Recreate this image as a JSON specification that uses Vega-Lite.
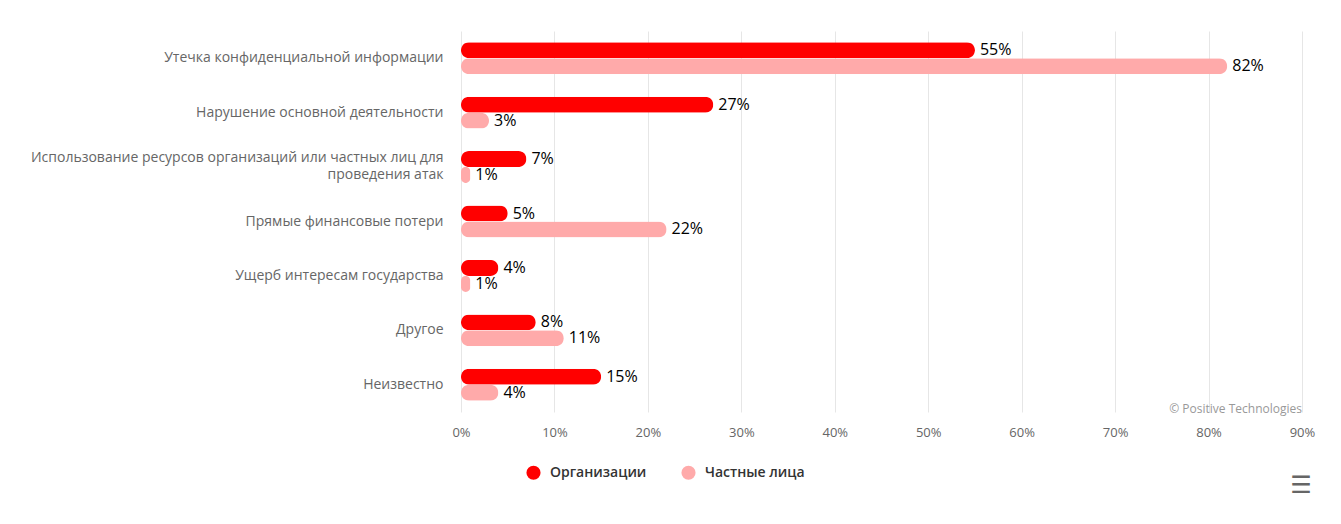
{
  "$schema": "https://vega.github.io/schema/vega-lite/v6.json",
  "width": 841,
  "height": 381,
  "padding": {"left": 11, "top": 31, "right": 39, "bottom": 20},
  "background": "white",
  "config": {
    "font": "Open Sans",
    "view": {"stroke": null}
  },
  "title": {
    "text": "☰",
    "orient": "bottom",
    "anchor": "end",
    "font": "DejaVu Sans",
    "fontSize": 24,
    "color": "#666666",
    "fontWeight": "bold",
    "offset": -6,
    "dx": -3
  },
  "data": {
    "values": [
      {"cat": "Утечка конфиденциальной информации", "series": "Организации", "value": 0.55},
      {"cat": "Утечка конфиденциальной информации", "series": "Частные лица", "value": 0.82},
      {"cat": "Нарушение основной деятельности", "series": "Организации", "value": 0.27},
      {"cat": "Нарушение основной деятельности", "series": "Частные лица", "value": 0.03},
      {"cat": "Использование ресурсов организаций или частных лиц для проведения атак", "series": "Организации", "value": 0.07},
      {"cat": "Использование ресурсов организаций или частных лиц для проведения атак", "series": "Частные лица", "value": 0.01},
      {"cat": "Прямые финансовые потери", "series": "Организации", "value": 0.05},
      {"cat": "Прямые финансовые потери", "series": "Частные лица", "value": 0.22},
      {"cat": "Ущерб интересам государства", "series": "Организации", "value": 0.04},
      {"cat": "Ущерб интересам государства", "series": "Частные лица", "value": 0.01},
      {"cat": "Другое", "series": "Организации", "value": 0.08},
      {"cat": "Другое", "series": "Частные лица", "value": 0.11},
      {"cat": "Неизвестно", "series": "Организации", "value": 0.15},
      {"cat": "Неизвестно", "series": "Частные лица", "value": 0.04}
    ]
  },
  "encoding": {
    "y": {
      "field": "cat",
      "type": "nominal",
      "sort": null,
      "title": null,
      "scale": {"paddingInner": 0.413, "paddingOuter": 0.2065},
      "axis": {
        "ticks": false,
        "domain": false,
        "labelPadding": 18,
        "minExtent": 450,
        "maxExtent": 450,
        "labelFontSize": 14,
        "labelColor": "#666666",
        "labelLimit": 600,
        "labelLineHeight": 17,
        "labelOffset": {"condition": {"test": "length(datum.label) > 60", "value": -9}, "value": 0},
        "labelExpr": "datum.label == 'Использование ресурсов организаций или частных лиц для проведения атак' ? ['Использование ресурсов организаций или частных лиц для', 'проведения атак'] : datum.label"
      }
    },
    "yOffset": {
      "field": "series",
      "type": "nominal",
      "scale": {"paddingInner": 0, "paddingOuter": 0}
    },
    "x": {
      "field": "value",
      "type": "quantitative",
      "title": null,
      "scale": {"domain": [0, 0.9], "nice": false},
      "axis": {
        "format": ".0%",
        "values": [0, 0.1, 0.2, 0.3, 0.4, 0.5, 0.6, 0.7, 0.8, 0.9],
        "labelOverlap": false,
        "domain": false,
        "ticks": false,
        "gridColor": "#e6e6e6",
        "labelFontSize": 13,
        "labelColor": "#666666",
        "labelPadding": 14,
        "labelFlush": false
      }
    }
  },
  "layer": [
    {
      "mark": {"type": "bar", "cornerRadius": 8},
      "encoding": {
        "color": {
          "field": "series",
          "type": "nominal",
          "scale": {"domain": ["Организации", "Частные лица"], "range": ["#ff0000", "#ffaaaa"]},
          "legend": {
            "title": null,
            "orient": "none",
            "direction": "horizontal",
            "legendX": 65,
            "legendY": 434,
            "symbolType": "circle",
            "symbolSize": 200,
            "symbolStrokeWidth": 0,
            "labelFontSize": 14,
            "labelColor": "#333333",
            "labelFontWeight": 600,
            "columnPadding": 34,
            "labelOffset": 9
          }
        }
      }
    },
    {
      "mark": {"type": "text", "align": "left", "baseline": "middle", "dx": 5, "fontSize": 16, "fontWeight": 500, "color": "#000000"},
      "encoding": {
        "text": {"field": "value", "type": "quantitative", "format": ".0%"}
      }
    },
    {
      "data": {"values": [{"cat": "Неизвестно", "x": 0.9, "t": "© Positive Technologies"}]},
      "mark": {"type": "text", "align": "right", "baseline": "middle", "dy": 24, "fontSize": 12, "color": "#999999"},
      "encoding": {
        "x": {"field": "x", "type": "quantitative"},
        "y": {"field": "cat", "type": "nominal"},
        "yOffset": null,
        "text": {"field": "t"}
      }
    }
  ]
}
